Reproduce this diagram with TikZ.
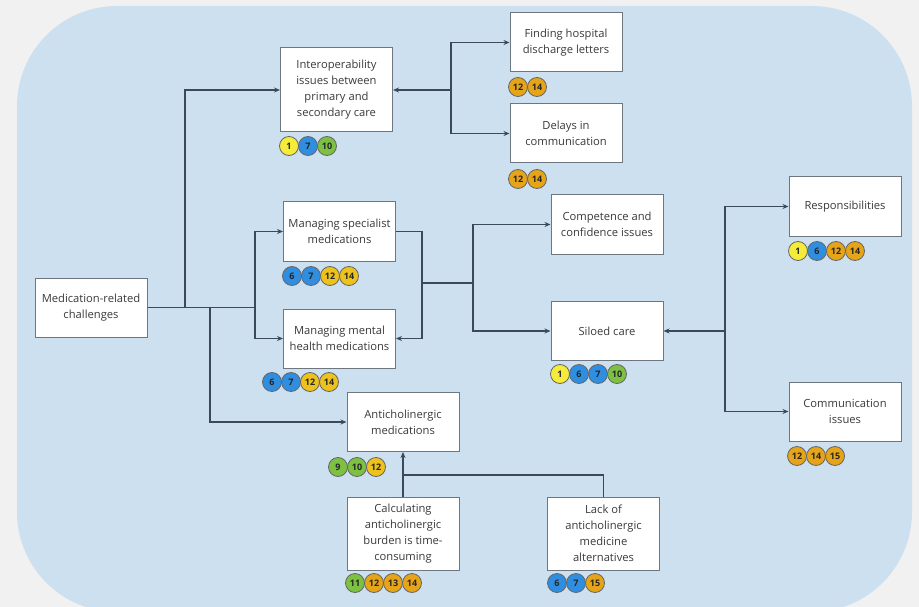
\documentclass[tikz,border=0pt]{standalone}
\usepackage{fontspec}
\setmainfont{Open Sans}
\usetikzlibrary{arrows.meta}
\definecolor{pagebg}{HTML}{F1F1F1}
\definecolor{panel}{HTML}{CDE0F0}
\definecolor{linec}{HTML}{3B4A5B}
\definecolor{boxline}{HTML}{6E7780}
\definecolor{txt}{HTML}{3A3A3A}
\definecolor{cY}{HTML}{F5EB3A}
\definecolor{cB}{HTML}{2F8EE0}
\definecolor{cG}{HTML}{7DC143}
\definecolor{cO}{HTML}{E6A418}
\definecolor{cL}{HTML}{EEC21C}
\newcommand\badgerow[4]{%
  \foreach [count=\i] \c/\n in {#4} {
    \node[badge, fill=\c] (#1-\i) at ({#2+(\i-1)*19}, #3) {\n};
  }%
}
\tikzset{
  box/.style={draw=boxline, line width=1pt, fill=white, minimum width=112pt,
    minimum height=59pt, align=center, inner sep=2pt,
    text=txt, font=\fontsize{11.2}{16}\selectfont},
  badge/.style={circle, draw=black!60, line width=0.8pt, minimum size=19pt,
    inner sep=0pt, text=black!85, font=\fontsize{9}{9}\selectfont\bfseries},
  conn/.style={draw=linec, line width=1.3pt},
  arr/.style={conn, -{Stealth[length=6pt,width=5pt]}},
}
\begin{document}
\begin{tikzpicture}[x=1pt, y=-1pt]
\useasboundingbox (0,0) rectangle (919,607);
\fill[pagebg] (0,0) rectangle (919,607);
\fill[panel, rounded corners=100pt] (17,6) rectangle (912,612);

% boxes
\node[box] (med) at (91,307.5) {Medication-related\\challenges};
\node[box, minimum height=84pt] (interop) at (336.5,90) {Interoperability\\issues between\\primary and\\secondary care};
\node[box] (find) at (566,42.5) {Finding hospital\\discharge letters};
\node[box] (delay) at (566,133.5) {Delays in\\communication};
\node[box] (spec) at (339.5,231.5) {Managing specialist\\medications};
\node[box] (mental) at (339.5,338.5) {Managing mental\\health medications};
\node[box] (comp) at (607,224.5) {Competence and\\confidence issues};
\node[box] (silo) at (607,331) {Siloed care};
\node[box] (resp) at (845,206.5) {Responsibilities};
\node[box] (comm) at (845,411.5) {Communication\\issues};
\node[box] (anti) at (403,422) {Anticholinergic\\medications};
\node[box, minimum height=73pt] (calc) at (403,533.5) {Calculating\\anticholinergic\\burden is time-\\consuming};
\node[box, minimum height=73pt] (lack) at (603.5,533.5) {Lack of\\anticholinergic\\medicine\\alternatives};

% connectors
\coordinate (j1) at (185,307.5);
\coordinate (j2) at (210,307.5);
\coordinate (j3) at (255,307.5);
\draw[conn] (med.east) -- (j3);
\draw[arr] (j1) |- (interop.west);
\draw[arr] (j2) |- (anti.west);
\draw[arr] (j3) |- (spec.west);
\draw[arr] (j3) |- (mental.west);

\coordinate (m1) at (451,90);
\draw[arr] (m1) -- (interop.east);
\draw[arr] (m1) |- (find.west);
\draw[arr] (m1) |- (delay.west);

\coordinate (k1) at (422,283);
\coordinate (k2) at (473,283);
\draw[arr] (spec.east) -| (k1) |- (mental.east);
\draw[conn] (k1) -- (k2);
\draw[arr] (k2) |- (comp.west);
\draw[arr] (k2) |- (silo.west);

\coordinate (r1) at (725,331);
\draw[arr] (r1) -- (silo.east);
\draw[arr] (r1) |- (resp.west);
\draw[arr] (r1) |- (comm.west);

\coordinate (a1) at (403,475);
\draw[arr] (calc.north) -- (anti.south);
\draw[conn] (lack.north) |- (a1);

% badges
\badgerow{bi}{289}{146}{cY/1, cB/7, cG/10}
\badgerow{bf}{518}{87}{cO/12, cO/14}
\badgerow{bd}{518}{179}{cO/12, cO/14}
\badgerow{bs}{292}{276}{cB/6, cB/7, cL/12, cL/14}
\badgerow{bm}{272}{382}{cB/6, cB/7, cL/12, cL/14}
\badgerow{bsi}{560}{374}{cY/1, cB/6, cB/7, cG/10}
\badgerow{br}{798}{251}{cY/1, cB/6, cO/12, cO/14}
\badgerow{bc}{797}{456}{cO/12, cO/14, cO/15}
\badgerow{ba}{338}{467}{cG/9, cG/10, cL/12}
\badgerow{bca}{355}{583}{cG/11, cO/12, cO/13, cO/14}
\badgerow{bl}{557}{583}{cB/6, cB/7, cO/15}
\end{tikzpicture}
\end{document}
